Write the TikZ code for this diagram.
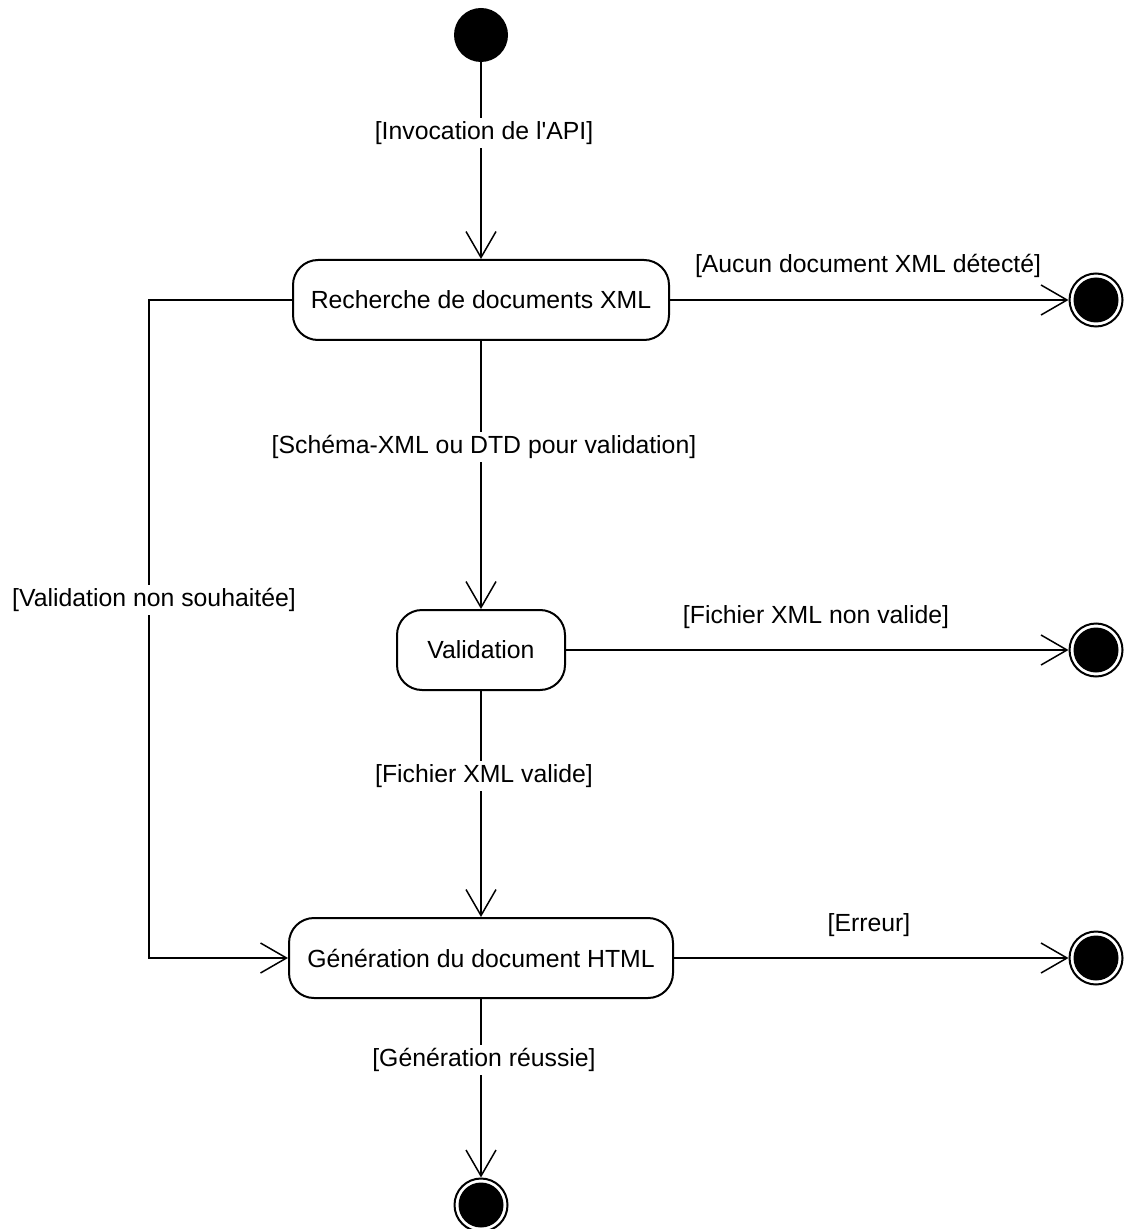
\documentclass[tikz,border=0pt]{standalone}
\usepackage{fontspec}
\setmainfont{Liberation Sans}[Ligatures=TeXOff]
\usetikzlibrary{arrows.meta}
\begin{document}
\begin{tikzpicture}[x=0.5pt,y=-0.5pt,
  every node/.style={font=\fontsize{12.4pt}{14pt}\selectfont},
  activity/.style={draw, line width=1pt, rounded corners=12.5pt, fill=white,
    minimum height=40pt, inner sep=0pt},
  startstate/.style={circle, fill=black, minimum size=27pt, inner sep=0pt},
  finalstate/.style={circle, draw, line width=1pt, minimum size=26.5pt, inner sep=0pt,
    path picture={\fill[black] (path picture bounding box.center) circle (11.25pt);}},
  flow/.style={line width=0.75pt, -{Straight Barb[length=13pt,width=15pt,line width=0.75pt]}},
  guard/.style={fill=white, inner sep=1.5pt}
]
\useasboundingbox (0,0) rectangle (1125,1229);

% states
\node[startstate] (start) at (481,35) {};
\node[activity, minimum width=188pt] (search) at (481,300) {Recherche de documents XML};
\node[activity, minimum width=84pt] (valid) at (481,650) {Validation};
\node[activity, minimum width=192pt] (gen) at (481,958) {Génération du document HTML};
\node[finalstate] (endA) at (1096,300) {};
\node[finalstate] (endB) at (1096,650) {};
\node[finalstate] (endC) at (1096,958) {};
\node[finalstate] (endD) at (481,1205) {};

% transitions
\draw[flow] (start) -- (search.north);
\draw[flow] (search.east) -- (endA.west);
\draw[flow] (search.south) -- (valid.north);
\draw[flow] (valid.east) -- (endB.west);
\draw[flow] (valid.south) -- (gen.north);
\draw[flow] (gen.east) -- (endC.west);
\draw[flow] (gen.south) -- (endD.north);

% bypass of the validation step
\coordinate (bendTop) at (149,300);
\coordinate (bendBot) at (149,958);
\draw[flow] (search.west) -- (bendTop) -- (bendBot) -- (gen.west);

% guard conditions
\node[guard] (gInvoke) at (484,133) {[Invocation de l'API]};
\node (gNone) at (868,266) {[Aucun document XML détecté]};
\node[guard] (gSchema) at (484,447) {[Schéma-XML ou DTD pour validation]};
\node (gInvalid) at (816,617) {[Fichier XML non valide]};
\node[guard] (gValid) at (484,776) {[Fichier XML valide]};
\node (gError) at (869,925) {[Erreur]};
\node[guard] (gDone) at (484,1060) {[Génération réussie]};
\node[guard] (gSkip) at (154,600) {[Validation non souhaitée]};
\end{tikzpicture}
\end{document}
